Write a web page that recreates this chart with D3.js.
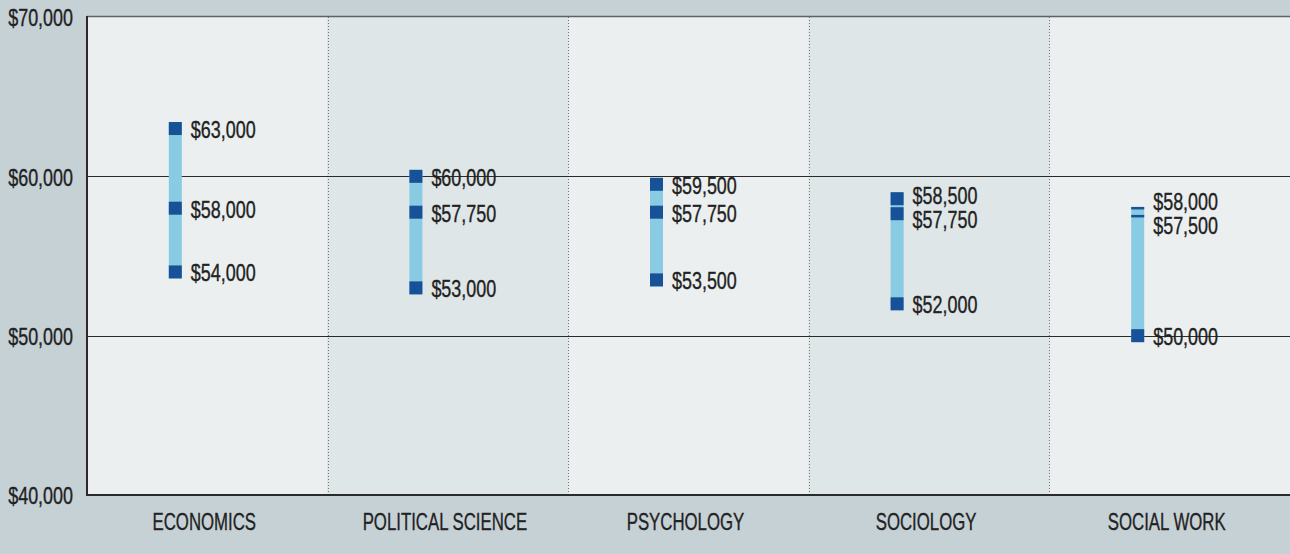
<!DOCTYPE html>
<html>
<head>
<meta charset="utf-8">
<script src="https://cdn.jsdelivr.net/npm/d3@7"></script>
<style>
  html, body { margin: 0; padding: 0; background: #c6d1d6; }
  svg { display: block; font-family: "Liberation Sans", Arial, sans-serif; }
  svg text { fill: #222; stroke: #222; stroke-width: 0.35px; }
</style>
</head>
<body>
<div id="chart"></div>
<script>
// salary ranges by major
var categories = ["ECONOMICS", "POLITICAL SCIENCE", "PSYCHOLOGY", "SOCIOLOGY", "SOCIAL WORK"];
var highSalary = [63000, 60000, 59500, 58500, 58000];
var medianSalary = [58000, 57750, 57750, 57750, 57500];
var lowSalary = [54000, 53000, 53500, 52000, 50000];
var yTicks = [40000, 50000, 60000, 70000];
var gridValues = [50000, 60000];

var W = 1290, H = 554;
var plot = { left: 87, top: 17, right: 1290, bottom: 495 };
var narrow = 0.78; // squeeze Liberation Sans to a narrow face

var svg = d3.select("#chart").append("svg")
  .attr("width", W)
  .attr("height", H);

var x = d3.scaleBand()
  .domain(categories)
  .range([plot.left, plot.right])
  .padding(0);

var y = d3.scaleLinear()
  .domain([40000, 70000])
  .range([plot.bottom, plot.top]);

var fmt = function(v){ return "$" + d3.format(",")(v); };

// column backgrounds
svg.append("g").selectAll("rect")
  .data(categories)
  .join("rect")
  .attr("x", function(d){ return x(d); })
  .attr("y", plot.top)
  .attr("width", x.bandwidth())
  .attr("height", plot.bottom - plot.top)
  .attr("fill", function(d, i){ return i % 2 ? "#dfe6e8" : "#ebeff0"; });

// dotted dividers
svg.append("g").selectAll("line")
  .data(categories.slice(1))
  .join("line")
  .attr("x1", function(d){ return Math.round(x(d)) + 0.5; })
  .attr("x2", function(d){ return Math.round(x(d)) + 0.5; })
  .attr("y1", plot.top)
  .attr("y2", plot.bottom)
  .attr("stroke", "#6f7579")
  .attr("stroke-width", 1)
  .attr("stroke-dasharray", "1,2");

// gridlines
svg.append("g").selectAll("line")
  .data(gridValues)
  .join("line")
  .attr("x1", plot.left)
  .attr("x2", plot.right)
  .attr("y1", function(d){ return Math.round(y(d)) + 0.5; })
  .attr("y2", function(d){ return Math.round(y(d)) + 0.5; })
  .attr("stroke", "#2a2a2a")
  .attr("stroke-width", 1);

// frame: top, left, bottom
svg.append("line")
  .attr("x1", plot.left).attr("x2", plot.right)
  .attr("y1", plot.top - 0.5).attr("y2", plot.top - 0.5)
  .attr("stroke", "#5d6367").attr("stroke-width", 1.5);
svg.append("line")
  .attr("x1", plot.left).attr("x2", plot.left)
  .attr("y1", plot.top - 1).attr("y2", plot.bottom + 1)
  .attr("stroke", "#2a2a2a").attr("stroke-width", 2);
svg.append("line")
  .attr("x1", plot.left - 1).attr("x2", plot.right)
  .attr("y1", plot.bottom).attr("y2", plot.bottom)
  .attr("stroke", "#2a2a2a").attr("stroke-width", 2);

// y tick labels
svg.append("g").selectAll("text")
  .data(yTicks)
  .join("text")
  .attr("transform", function(d){ return "translate(73," + (y(d) + 1) + ") scale(" + narrow + ",1)"; })
  .attr("text-anchor", "end")
  .attr("dominant-baseline", "central")
  .attr("font-size", 23)
  .text(fmt);

// category labels
svg.append("g").selectAll("text")
  .data(categories)
  .join("text")
  .attr("transform", function(d){
    return "translate(" + (x(d) + x.bandwidth() / 2 - 3) + ",521) scale(0.7,1)";
  })
  .attr("text-anchor", "middle")
  .attr("dominant-baseline", "central")
  .attr("font-size", 24)
  .text(function(d){ return d; });

var barW = 13, markH = 13;

var rows = categories.map(function(c, i){
  var vals = [highSalary[i], medianSalary[i], lowSalary[i]];
  var pts = vals.map(function(v){ return { v: v, y: y(v) }; });
  // markers that sit on top of each other become thin lines,
  // markers that only touch are nudged apart
  pts.forEach(function(p, j){
    var near = pts.some(function(q, k){ return k !== j && Math.abs(q.y - p.y) < 10; });
    p.h = near ? 2.5 : markH;
  });
  for (var j = 0; j < pts.length - 1; j++) {
    var a = pts[j], b = pts[j + 1];
    var gap = b.y - a.y;
    if (a.h === markH && b.h === markH && gap < 15) {
      var m = (a.y + b.y) / 2;
      a.y = m - 7.5; b.y = m + 7.5;
    }
  }
  // label positions, pushed apart when crowded
  pts.forEach(function(p){ p.ly = p.y; });
  for (var it = 0; it < 5; it++) {
    for (var k = 0; k < pts.length - 1; k++) {
      var p1 = pts[k], p2 = pts[k + 1];
      if (p2.ly - p1.ly < 24) {
        var mid = (p1.ly + p2.ly) / 2;
        p1.ly = mid - 12; p2.ly = mid + 12;
      }
    }
  }
  return { cat: c, bx: x(c) + x.bandwidth() * 0.34, pts: pts };
});

var g = svg.append("g");

// range bars
g.selectAll("rect.range")
  .data(rows)
  .join("rect")
  .attr("class", "range")
  .attr("x", function(d){ return d.bx; })
  .attr("width", barW)
  .attr("y", function(d){ return d.pts[0].y - d.pts[0].h / 2; })
  .attr("height", function(d){
    var t = d.pts[0], b = d.pts[d.pts.length - 1];
    return (b.y + b.h / 2) - (t.y - t.h / 2);
  })
  .attr("fill", "#89cbe3");

// markers
var cats = g.selectAll("g.cat")
  .data(rows)
  .join("g")
  .attr("class", "cat");

cats.selectAll("rect")
  .data(function(d){ return d.pts.map(function(p){ return { bx: d.bx, p: p }; }); })
  .join("rect")
  .attr("x", function(d){ return d.bx; })
  .attr("width", barW)
  .attr("y", function(d){ return d.p.y - d.p.h / 2; })
  .attr("height", function(d){ return d.p.h; })
  .attr("fill", "#175299");

cats.selectAll("text")
  .data(function(d){ return d.pts.map(function(p){ return { bx: d.bx, p: p }; }); })
  .join("text")
  .attr("transform", function(d){
    return "translate(" + (d.bx + barW + 9) + "," + (d.p.ly + 1) + ") scale(" + narrow + ",1)";
  })
  .attr("dominant-baseline", "central")
  .attr("font-size", 23)
  .text(function(d){ return fmt(d.p.v); });
</script>
</body>
</html>
